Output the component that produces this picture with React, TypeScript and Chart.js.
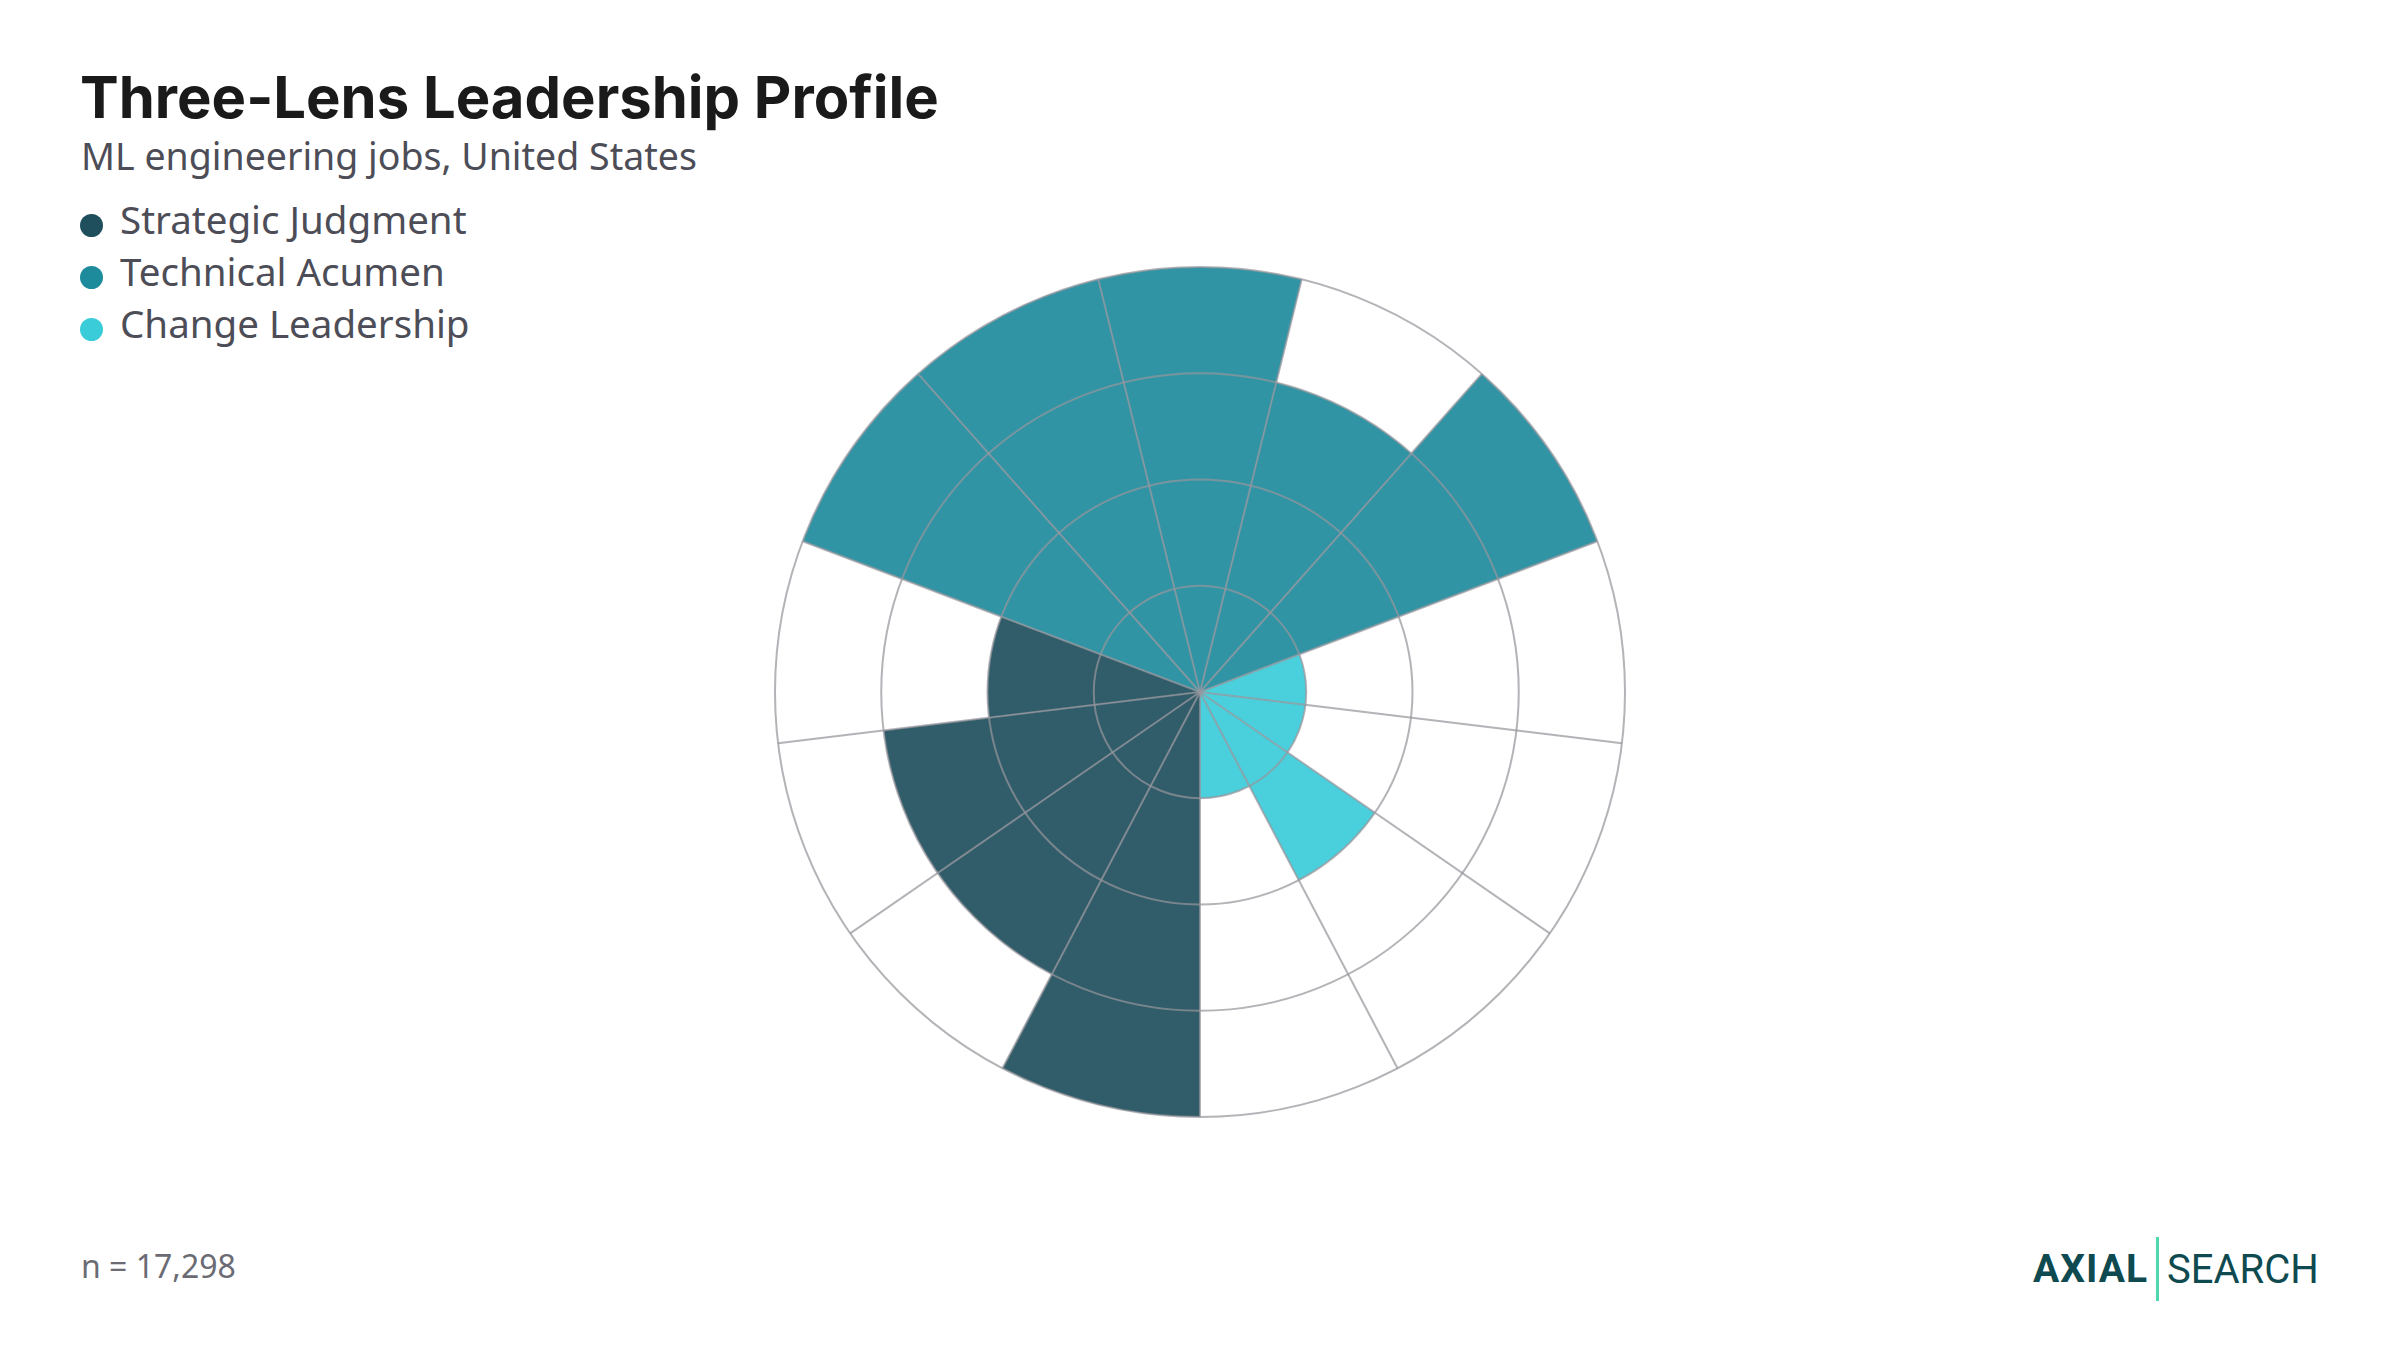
import { useEffect, useRef } from 'react';
import Chart from 'chart.js/auto';

// segment names (not drawn, tooltip only) in clockwise order from the bottom
const competencies = [
  'Vision', 'Prioritization', 'Business Acumen', 'Decision Making',
  'System Design', 'ML Depth', 'Data Engineering', 'MLOps', 'Code Quality',
  'Change Management', 'Stakeholder Alignment', 'Coaching', 'Influence',
];
const lens = [
  'Strategic Judgment', 'Strategic Judgment', 'Strategic Judgment', 'Strategic Judgment',
  'Technical Acumen', 'Technical Acumen', 'Technical Acumen', 'Technical Acumen', 'Technical Acumen',
  'Change Leadership', 'Change Leadership', 'Change Leadership', 'Change Leadership',
];
const levels = [4, 3, 3, 2, 4, 4, 4, 3, 4, 1, 1, 2, 1];
const lensNames = ['Strategic Judgment', 'Technical Acumen', 'Change Leadership'];
const lensColors = ['#1F4E5C', '#1E8B9D', '#3BCCD9'];
const lensFills = ['rgba(31,78,92,0.92)', 'rgba(30,139,157,0.92)', 'rgba(59,204,217,0.92)'];

const gridColor = 'rgba(150,150,156,0.72)';

const PolarChart = () => {
  const canvasRef = useRef<HTMLCanvasElement>(null);

  useEffect(() => {
    if (!canvasRef.current) return;
    const ctx = canvasRef.current.getContext('2d');
    if (!ctx) return;

    const chart = new Chart(ctx, {
      type: 'polarArea',
      data: {
        labels: competencies,
        datasets: [{
          data: levels,
          backgroundColor: lens.map((l) => lensFills[lensNames.indexOf(l)]),
          borderWidth: 0,
        }],
      },
      options: {
        animation: false,
        responsive: false,
        maintainAspectRatio: false,
        layout: { padding: 5 },
        plugins: {
          legend: { display: false },
          tooltip: { enabled: true },
        },
        scales: {
          r: {
            min: 0,
            max: 4,
            startAngle: 180,
            ticks: { display: false, stepSize: 1 },
            // grid layer above the wedges, rings show through the fills
            grid: { circular: true, color: gridColor, lineWidth: 2, z: 1 },
            angleLines: { display: true, color: gridColor, lineWidth: 2 },
            pointLabels: { display: false },
          },
        },
      },
    });

    return () => {
      chart.destroy();
    };
  }, []);

  return (
    <canvas
      ref={canvasRef}
      width={860}
      height={860}
      style={{ position: 'absolute', left: 770, top: 262, width: 860, height: 860 }}
    />
  );
};

export default function App() {
  const sans = '"Noto Sans", Roboto, sans-serif';
  return (
    <div style={{ position: 'fixed', left: 0, top: 0, width: 2400, height: 1350, background: '#fff', overflow: 'hidden' }}>
      <div style={{ position: 'absolute', left: 80, top: 68, font: '700 58px Inter, sans-serif', lineHeight: 1, color: '#1a1a1a', whiteSpace: 'nowrap' }}>
        Three-Lens Leadership Profile
      </div>
      <div style={{ position: 'absolute', left: 81, top: 137, fontFamily: sans, fontSize: 37.5, lineHeight: 1, color: '#4d4d57', whiteSpace: 'nowrap' }}>
        ML engineering jobs, United States
      </div>
      {lensNames.map((name, i) => (
        <div key={name}>
          <span style={{ position: 'absolute', left: 80, top: 214 + i * 52, width: 23, height: 23, borderRadius: '50%', background: lensColors[i] }} />
          <span style={{ position: 'absolute', left: 120, top: 200 + i * 52, fontFamily: sans, fontSize: 38.5, lineHeight: 1, color: '#4d4d57', whiteSpace: 'nowrap' }}>{name}</span>
        </div>
      ))}
      <PolarChart />
      <div style={{ position: 'absolute', left: 81, top: 1250, fontFamily: sans, fontSize: 32, lineHeight: 1, color: '#6b6b73', whiteSpace: 'nowrap' }}>
        n = 17,298
      </div>
      <div style={{ position: 'absolute', left: 2033, top: 1237, height: 64, display: 'flex', alignItems: 'center', whiteSpace: 'nowrap' }}>
        <span style={{ fontFamily: 'Roboto, sans-serif', fontWeight: 700, fontSize: 39, color: '#0E4A4F', letterSpacing: 1 }}>AXIAL</span>
        <span style={{ width: 3, height: 64, background: '#4ED8B0', margin: '0 8px' }} />
        <span style={{ fontFamily: 'Roboto, sans-serif', fontWeight: 400, fontSize: 40, color: '#0E4A4F' }}>SEARCH</span>
      </div>
    </div>
  );
}
